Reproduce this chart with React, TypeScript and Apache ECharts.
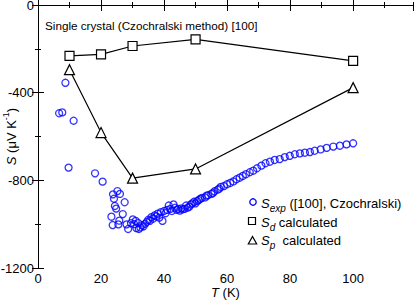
import React, { useEffect, useRef } from "react";
import * as echarts from "echarts";

// Experimental data S_exp ([100], Czochralski): temperature (K) and Seebeck coefficient (µV/K)
const expT = [
  6.7, 7.7, 8.7, 9.7, 11.3, 18.1, 20.5,
  23.3, 23.7, 23.8, 24.1, 24.4, 24.8, 25.2, 25.5, 25.8, 26.0, 26.9, 27.5, 28.1, 28.6,
  29.5, 30.1, 30.5, 31.0, 31.2, 31.8, 32.0, 32.5, 33.0, 33.5, 34.0, 34.5, 35.0, 35.5,
  36.0, 36.5, 37.0, 37.5, 38.0, 38.5, 39.0, 39.5, 40.0, 40.5, 41.0, 41.5, 42.0, 42.5,
  43.0, 43.5, 44.0, 44.5, 45.0, 45.5, 46.0, 46.5, 47.0, 47.5, 48.0, 48.5, 49.0, 49.5,
  50.0, 50.5, 51.0, 51.5, 52.0, 53.0, 53.5, 54.0, 55.0, 55.5, 56.0, 57.0, 57.5, 58.0,
  59.0, 60.0, 61.0, 62.0, 63.0, 64.0, 65.0, 66.0, 67.2, 68.3, 69.5, 70.9, 72.2, 73.6,
  75.1, 76.7, 78.3, 79.9, 81.5, 83.1, 84.7, 86.3, 87.8, 89.7, 91.6, 93.7, 95.8, 97.9, 100.0,
];
const expS = [
  -494, -490, -355, -742, -528, -768, -806,
  -966, -1004, -864, -884, -917, -929, -849, -1001, -984, -862, -954, -900, -1001, -1022,
  -995, -978, -1000, -985, -1018, -995, -1022, -1015, -1005, -1010, -998, -990, -980, -985,
  -968, -975, -960, -965, -952, -970, -945, -985, -940, -950, -935, -915, -930, -940,
  -910, -925, -935, -930, -938, -928, -932, -930, -915, -925, -920, -910, -905, -898,
  -905, -895, -890, -885, -880, -878, -870, -868, -862, -858, -850, -843, -838, -830,
  -826, -818, -812, -805, -795, -788, -780, -772, -763, -756, -745, -733, -722, -715,
  -707, -703, -694, -688, -681, -677, -674, -671, -665, -659, -652, -646, -642, -636, -631,
];

// Calculated values
const calcT = [10, 20, 30, 50, 100];
const sdCalc = [-232, -225, -187, -157, -255];
const spCalc = [-295, -582, -790, -748, -377];

// Axis ticks
const xTickStep = 20;
const yTickStep = 400;
const xTickLabels = [0, 20, 40, 60, 80, 100];
const yTickLabels = [0, -400, -800, -1200];

const FONT = "'Liberation Sans', Arial, Helvetica, sans-serif";

export default function App() {
  const ref = useRef<HTMLDivElement>(null);

  useEffect(() => {
    if (!ref.current) return;
    const chart = echarts.init(ref.current, null, { renderer: "svg" });

    const expData = expT.map((t, i) => [t, expS[i]]);
    const sdData = calcT.map((t, i) => [t, sdCalc[i]]);
    const spData = calcT.map((t, i) => [t, spCalc[i]]);

    const black = "#000";
    const xBase = {
      type: "value",
      min: 0,
      max: 119,
      splitLine: { show: false },
    };
    const yBase = {
      type: "value",
      min: -1200,
      max: 0,
      splitLine: { show: false },
    };

    const richMain = {
      i: { fontStyle: "italic", fontFamily: FONT, fontSize: 13, color: black, lineHeight: 20, verticalAlign: "middle" },
      n: { fontFamily: FONT, fontSize: 13, color: black, lineHeight: 20, verticalAlign: "middle" },
      sub: { fontStyle: "italic", fontFamily: FONT, fontSize: 10, color: black, lineHeight: 10, verticalAlign: "bottom" },
      sup: { fontFamily: FONT, fontSize: 9, color: black, lineHeight: 9, verticalAlign: "top" },
    };

    const option: any = {
      animation: false,
      backgroundColor: "#fff",
      grid: { left: 38, right: 2, top: 5, bottom: 32, containLabel: false, outerBoundsMode: "none" },
      xAxis: [
        {
          ...xBase,
          position: "bottom",
          interval: xTickStep,
          axisLine: { show: true, lineStyle: { color: black, width: 1 } },
          axisTick: { show: true, inside: true, length: 6, lineStyle: { color: black, width: 1 } },
          axisLabel: {
            show: true,
            color: black,
            fontSize: 13,
            fontFamily: FONT,
            margin: 4,
            showMaxLabel: false,
            formatter: (v: number) => (xTickLabels.includes(v) ? String(v) : ""),
          },
          name: "{i|T} {n|(K)}",
          nameLocation: "middle",
          nameGap: 14,
          nameMoveOverlap: false,
          nameTextStyle: { rich: richMain, fontFamily: FONT, fontSize: 13, color: black },
        },
        {
          ...xBase,
          position: "bottom",
          interval: 10,
          axisLine: { show: false },
          axisTick: { show: true, inside: true, length: 3, lineStyle: { color: black, width: 1 } },
          axisLabel: { show: false },
        },
        {
          ...xBase,
          position: "top",
          interval: xTickStep,
          axisLine: { show: true, lineStyle: { color: black, width: 1 } },
          axisTick: { show: true, inside: true, length: 6, lineStyle: { color: black, width: 1 } },
          axisLabel: { show: false },
        },
        {
          ...xBase,
          position: "top",
          interval: 10,
          axisLine: { show: false },
          axisTick: { show: true, inside: true, length: 3, lineStyle: { color: black, width: 1 } },
          axisLabel: { show: false },
        },
      ],
      yAxis: [
        {
          ...yBase,
          position: "left",
          interval: yTickStep,
          axisLine: { show: true, lineStyle: { color: black, width: 1 } },
          axisTick: { show: true, inside: true, length: 6, lineStyle: { color: black, width: 1 } },
          axisLabel: {
            show: true,
            color: black,
            fontSize: 13,
            fontFamily: FONT,
            margin: 4,
            formatter: (v: number) => (yTickLabels.includes(v) ? String(v) : ""),
          },
          name: "{i|S} {n|(μV K}{sup|-1}{n|)}",
          nameLocation: "middle",
          nameGap: 17,
          nameMoveOverlap: false,
          nameRotate: 90,
          nameTextStyle: { rich: richMain, fontFamily: FONT, fontSize: 13, color: black },
        },
        {
          ...yBase,
          position: "left",
          interval: 200,
          axisLine: { show: false },
          axisTick: { show: true, inside: true, length: 3, lineStyle: { color: black, width: 1 } },
          axisLabel: { show: false },
        },
        {
          ...yBase,
          position: "right",
          interval: yTickStep,
          axisLine: { show: true, lineStyle: { color: black, width: 1 } },
          axisTick: { show: true, inside: true, length: 6, lineStyle: { color: black, width: 1 } },
          axisLabel: { show: false },
        },
        {
          ...yBase,
          position: "right",
          interval: 200,
          axisLine: { show: false },
          axisTick: { show: true, inside: true, length: 3, lineStyle: { color: black, width: 1 } },
          axisLabel: { show: false },
        },
      ],
      series: [
        {
          name: "S_exp",
          type: "scatter",
          data: expData,
          symbol: "circle",
          symbolSize: 7,
          itemStyle: { color: "rgba(255,255,255,0)", borderColor: "#0000ff", borderWidth: 1.3 },
          z: 2,
        },
        {
          name: "S_d",
          type: "line",
          data: sdData,
          symbol: "rect",
          symbolSize: 9,
          showAllSymbol: true,
          lineStyle: { color: black, width: 1.2 },
          itemStyle: { color: "#fff", borderColor: black, borderWidth: 1.2 },
          z: 3,
        },
        {
          name: "S_p",
          type: "line",
          data: spData,
          symbol: "triangle",
          symbolSize: 10,
          showAllSymbol: true,
          lineStyle: { color: black, width: 1.2 },
          itemStyle: { color: "#fff", borderColor: black, borderWidth: 1.2 },
          z: 3,
        },
      ],
      graphic: [
        {
          type: "text",
          x: 45,
          y: 25,
          style: {
            text: "Single crystal (Czochralski method) [100]",
            fontFamily: FONT,
            fontSize: 11.7,
            fill: black,
            verticalAlign: "middle",
          },
        },
        {
          type: "circle",
          shape: { cx: 253, cy: 202, r: 3.2 },
          style: { fill: "none", stroke: "#0000ff", lineWidth: 1.3 },
        },
        {
          type: "rect",
          shape: { x: 248.5, y: 217.5, width: 7, height: 7 },
          style: { fill: "#fff", stroke: black, lineWidth: 1.2 },
        },
        {
          type: "polygon",
          shape: { points: [[252.5, 236.5], [248.3, 244], [256.7, 244]] },
          style: { fill: "#fff", stroke: black, lineWidth: 1.2 },
        },
        {
          type: "text",
          x: 261,
          y: 203,
          style: {
            text: "{i|S}{sub|exp}{n| ([100], Czochralski)}",
            rich: richMain,
            verticalAlign: "middle",
          },
        },
        {
          type: "text",
          x: 261,
          y: 222,
          style: {
            text: "{i|S}{sub|d}{n| calculated}",
            rich: richMain,
            verticalAlign: "middle",
          },
        },
        {
          type: "text",
          x: 261,
          y: 240,
          style: {
            text: "{i|S}{sub|p}{n|  calculated}",
            rich: richMain,
            verticalAlign: "middle",
          },
        },
      ],
    };

    chart.setOption(option);
    return () => chart.dispose();
  }, []);

  return (
    <div
      ref={ref}
      style={{ position: "fixed", left: 0, top: 0, width: 415, height: 300, background: "#fff" }}
    />
  );
}
